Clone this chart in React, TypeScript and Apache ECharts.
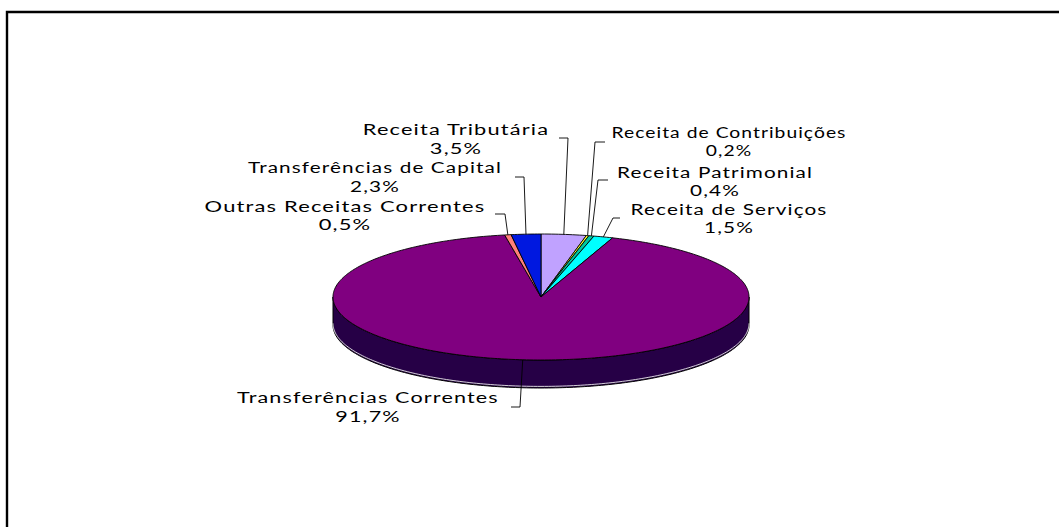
import React, { useEffect, useRef } from "react";
import * as echarts from "echarts";

// Composition of municipal revenue, in percent of the total
const categories = [
  "Receita Tributária",
  "Receita de Contribuições",
  "Receita Patrimonial",
  "Receita de Serviços",
  "Transferências Correntes",
  "Outras Receitas Correntes",
  "Transferências de Capital",
];
const shares = [3.5, 0.2, 0.4, 1.5, 91.7, 0.5, 2.3];
const sliceColors = ["#C0A2FF", "#FFFF30", "#00C8A0", "#00FFFF", "#800080", "#FF8078", "#0018E0"];
const wallColors = ["#60517F", "#7F7F18", "#006450", "#007F7F", "#260046", "#7F403C", "#000C70"];

// Tilted disc geometry
const CX = 541;
const CY = 297;
const RX = 208;
const RY = 63;
const DEPTH = 28;

// Callout placement per category: [centre x, first line y, second line y, name width, elbow x, elbow y, stub end x]
const calloutLayout: number[][] = [
  [456, 129, 148, 187, 568, 138, 559],
  [729, 132, 150, 235, 595, 142, 605],
  [715, 172, 190, 196, 598, 180, 608],
  [729, 209, 227, 197, 613, 218, 620],
  [368, 397, 416, 262, 520, 407, 511],
  [345, 206, 224, 281, 505, 214, 495],
  [375, 167, 186, 254, 524, 177, 515],
];

const FONT_FAMILY = "Lato";
const FONT_SIZE = 15;
const TRACKING = "0.8px";

const total = shares.reduce((a, b) => a + b, 0);
const startAngle = (i: number) =>
  (shares.slice(0, i).reduce((a, b) => a + b, 0) / total) * Math.PI * 2;

// Angle runs clockwise from twelve o'clock
const rimPoint = (angle: number, drop = 0): number[] => [
  CX + RX * Math.sin(angle),
  CY - RY * Math.cos(angle) + drop,
];

const arcPoints = (from: number, to: number, drop = 0): number[][] => {
  const steps = Math.max(2, Math.ceil(((to - from) / Math.PI) * 180));
  const pts: number[][] = [];
  for (let k = 0; k <= steps; k++) pts.push(rimPoint(from + ((to - from) * k) / steps, drop));
  return pts;
};

const measure = (() => {
  const ctx = document.createElement("canvas").getContext("2d") as any;
  return (text: string) => {
    ctx.font = `${FONT_SIZE}px ${FONT_FAMILY}`;
    ctx.letterSpacing = TRACKING;
    return ctx.measureText(text).width;
  };
})();

const indexedData = shares.map((v, i) => [i, v]);

function renderWall(_: unknown, api: any) {
  const i = api.value(0);
  const from = Math.max(startAngle(i), Math.PI / 2);
  const to = Math.min(startAngle(i) + (api.value(1) / total) * Math.PI * 2, Math.PI * 1.5);
  if (to <= from) return { type: "group", children: [] };
  const upper = arcPoints(from, to);
  const lower = arcPoints(from, to, DEPTH);
  return {
    type: "group",
    children: [
      {
        type: "polygon",
        shape: { points: [...upper, ...lower.reverse()] },
        style: { fill: wallColors[i], stroke: "#000", lineWidth: 1 },
      },
      {
        type: "polyline",
        shape: { points: arcPoints(from, to, DEPTH - 1.6) },
        style: { fill: "none", stroke: "#E8E8E8", lineWidth: 0.9 },
      },
    ],
  };
}

function renderSlice(_: unknown, api: any) {
  const i = api.value(0);
  const from = startAngle(i);
  const to = from + (api.value(1) / total) * Math.PI * 2;
  return {
    type: "polygon",
    shape: { points: [[CX, CY], ...arcPoints(from, to)] },
    style: { fill: sliceColors[i], stroke: "#000", lineWidth: 0.9, lineJoin: "round" },
  };
}

function renderCallout(_: unknown, api: any) {
  const i = api.value(0);
  const value = api.value(1);
  const [cx, y1, y2, nameWidth, elbowX, elbowY, stubX] = calloutLayout[i];
  const name = categories[i];
  const stretch = nameWidth / measure(name);
  const textStyle = {
    fontFamily: FONT_FAMILY,
    fontSize: FONT_SIZE,
    fill: "#000",
    align: "center",
    verticalAlign: "middle",
  };
  const anchor = rimPoint(startAngle(i) + ((value / total) * Math.PI * 2) / 2);
  return {
    type: "group",
    children: [
      {
        type: "polyline",
        shape: { points: [[stubX, elbowY], [elbowX, elbowY], anchor] },
        style: { fill: "none", stroke: "#000", lineWidth: 0.9 },
      },
      { type: "text", x: cx, y: y1, scaleX: stretch, style: { ...textStyle, text: name } },
      {
        type: "text",
        x: cx,
        y: y2,
        scaleX: stretch,
        style: { ...textStyle, text: `${value.toFixed(1).replace(".", ",")}%` },
      },
    ],
  };
}

export default function App() {
  const ref = useRef<HTMLDivElement>(null);

  useEffect(() => {
    const chart = echarts.init(ref.current!, undefined, { renderer: "svg" });
    chart.setOption({
      animation: false,
      backgroundColor: "#fff",
      graphic: [
        {
          type: "rect",
          silent: true,
          shape: { x: 7, y: 12, width: 1200, height: 700 },
          style: { fill: "none", stroke: "#000", lineWidth: 2.4 },
        },
      ],
      series: [
        { type: "custom", coordinateSystem: "none", silent: true, z: 2, clip: false, data: indexedData, renderItem: renderWall },
        { type: "custom", coordinateSystem: "none", silent: true, z: 3, clip: false, data: indexedData, renderItem: renderSlice },
        { type: "custom", coordinateSystem: "none", silent: true, z: 4, clip: false, data: indexedData, renderItem: renderCallout },
      ],
    });
    return () => chart.dispose();
  }, []);

  return (
    <div
      ref={ref}
      style={{ position: "fixed", left: 0, top: 0, width: 1059, height: 527, letterSpacing: TRACKING }}
    />
  );
}
